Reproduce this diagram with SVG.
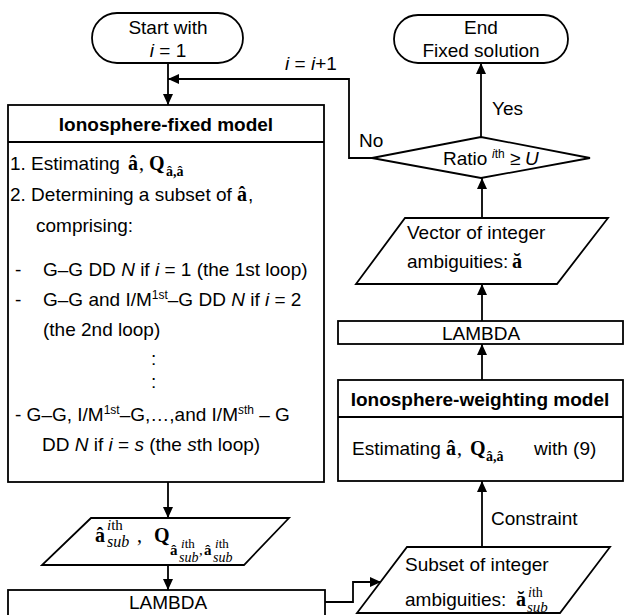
<svg xmlns="http://www.w3.org/2000/svg" width="625" height="615" viewBox="0 0 625 615">
<defs>
<marker id="ah" markerWidth="11" markerHeight="10" refX="11" refY="5" orient="auto" markerUnits="userSpaceOnUse">
<path d="M0,0 L11,5 L0,10 z" fill="#000"/>
</marker>
<style>
.shape{fill:#fff;stroke:#000;stroke-width:1.8}
.line{fill:none;stroke:#000;stroke-width:1.8}
.conn{fill:none;stroke:#000;stroke-width:1.8;marker-end:url(#ah)}
text{font-family:"Liberation Sans",Arial,sans-serif;font-size:19px;fill:#000}
.b{font-weight:bold}
.it{font-style:italic}
.m{font-family:"Liberation Serif","Times New Roman",serif;font-weight:bold;font-size:20px}
.ms{font-family:"Liberation Serif","Times New Roman",serif;font-weight:bold;font-size:14px}
.sr{font-family:"Liberation Serif","Times New Roman",serif;font-size:15px}
.sri{font-family:"Liberation Serif","Times New Roman",serif;font-size:16px;font-style:italic}
.sup{font-size:12px}
.c{text-anchor:middle}
</style>
</defs>

<g id="connectors">
<path class="conn" d="M168,63 V105"/>
<path class="conn" d="M372,158 H349 V79 H168"/>
<path class="conn" d="M481,137 V63"/>
<path class="conn" d="M482,218 V178"/>
<path class="conn" d="M482,321 V284"/>
<path class="conn" d="M482,380 V344"/>
<path class="conn" d="M482,547 V481"/>
<path class="conn" d="M168,482 V518"/>
<path class="conn" d="M168,565 V590"/>
<path class="conn" d="M325,602 H353 V582 H381"/>
<text x="285" y="70"><tspan class="it">i</tspan> = <tspan class="it">i</tspan>+1</text>
<text x="359" y="147">No</text>
<text x="492" y="115">Yes</text>
<text x="491" y="525">Constraint</text>
</g>

<g id="start">
<rect class="shape" x="92" y="13" width="151" height="50" rx="25" ry="25"/>
<text class="c" x="168" y="34">Start with</text>
<text class="c" x="168" y="57"><tspan class="it">i</tspan> = 1</text>
</g>

<g id="end">
<rect class="shape" x="394" y="15" width="174" height="48" rx="24" ry="24"/>
<text class="c" x="481" y="34">End</text>
<text class="c" x="481" y="57">Fixed solution</text>
</g>

<g id="fixed-model">
<rect class="shape" x="8" y="105" width="316" height="377"/>
<path class="line" d="M8,142 H324"/>
<text class="c b" x="166" y="131">Ionosphere-fixed model</text>
<text x="10" y="170">1. Estimating</text>
<text class="m" x="128" y="170">â</text>
<text class="sr" x="139" y="170" style="font-size:20px">,</text>
<text class="m" x="149" y="170">Q</text>
<text class="ms" x="166" y="176">â,â</text>
<text x="10" y="201">2. Determining a subset of</text>
<text class="m" x="237" y="201">â</text>
<text x="248" y="201">,</text>
<text x="36" y="232">comprising:</text>
<text x="15" y="276">-</text>
<text x="43" y="276">G–G DD <tspan class="it">N</tspan>  if <tspan class="it">i</tspan> = 1 (the 1st loop)</text>
<text x="15" y="306">-</text>
<text x="43" y="306">G–G and I/M<tspan class="sup" dy="-7">1st</tspan><tspan dy="7">–G DD </tspan><tspan class="it">N</tspan> if <tspan class="it">i</tspan> = 2</text>
<text x="43" y="336">(the 2nd loop)</text>
<text x="151" y="365">:</text>
<text x="151" y="388">:</text>
<text x="15" y="421">- G–G, I/M<tspan class="sup" dy="-7">1st</tspan><tspan dy="7">–G,…,and I/M</tspan><tspan class="sup it" dy="-7">s</tspan><tspan class="sup">th</tspan><tspan dy="7"> – G</tspan></text>
<text x="42" y="451">DD <tspan class="it">N</tspan> if <tspan class="it">i</tspan> = <tspan class="it">s</tspan> (the <tspan class="it">s</tspan>th loop)</text>
</g>

<g id="estimates-sub">
<polygon class="shape" points="91,518 289,518 244,565 42,565"/>
<text class="m" x="95" y="542">â</text>
<text class="sr" x="107" y="530"><tspan font-style="italic">i</tspan>th</text>
<text class="sri" x="107" y="547">sub</text>
<text class="sr" x="137" y="542" style="font-size:20px">,</text>
<text class="m" x="154" y="542">Q</text>
<text class="ms" x="170" y="555" style="font-size:15px">â</text>
<text class="sr" x="181" y="548" style="font-size:13px"><tspan font-style="italic">i</tspan>th</text>
<text class="sri" x="179" y="562" style="font-size:14px">sub</text>
<text class="sr" x="199" y="555">,</text>
<text class="ms" x="204" y="555" style="font-size:15px">â</text>
<text class="sr" x="215" y="548" style="font-size:13px"><tspan font-style="italic">i</tspan>th</text>
<text class="sri" x="213" y="562" style="font-size:14px">sub</text>
</g>

<g id="lambda-left">
<rect class="shape" x="8" y="590" width="317" height="27"/>
<text class="c" x="168" y="609">LAMBDA</text>
</g>

<g id="subset-int">
<polygon class="shape" points="407,547 610,547 560,613 357,613"/>
<text x="405" y="571">Subset of integer</text>
<text x="405" y="606">ambiguities:</text>
<text class="m" x="516" y="606">ă</text>
<text class="sr" x="528" y="597" style="font-size:14px"><tspan font-style="italic">i</tspan>th</text>
<text class="sri" x="527" y="612" style="font-size:15px">sub</text>
</g>

<g id="weighting-model">
<rect class="shape" x="338" y="380" width="285" height="101"/>
<path class="line" d="M338,417 H623"/>
<text class="c b" x="480" y="406">Ionosphere-weighting model</text>
<text x="352" y="455">Estimating</text>
<text class="m" x="446" y="455">â</text>
<text class="sr" x="457" y="455" style="font-size:20px">,</text>
<text class="m" x="470" y="455">Q</text>
<text class="ms" x="486" y="461">â,â</text>
<text x="534" y="455">with (9)</text>
</g>

<g id="lambda-right">
<rect class="shape" x="338" y="321" width="285" height="23"/>
<text class="c" x="481" y="340">LAMBDA</text>
</g>

<g id="vector-int">
<polygon class="shape" points="405,218 608,218 557,284 356,284"/>
<text x="407" y="239">Vector of integer</text>
<text x="407" y="268">ambiguities:</text>
<text class="m" x="512" y="268">ă</text>
</g>

<g id="ratio-test">
<polygon class="shape" points="372,158 481,137 590,158 481,178"/>
<text x="443" y="165">Ratio</text>
<text class="sup" x="492" y="158"><tspan class="it">i</tspan>th</text>
<text x="510" y="165">≥</text>
<text class="it" x="525" y="165">U</text>
</g>
</svg>
